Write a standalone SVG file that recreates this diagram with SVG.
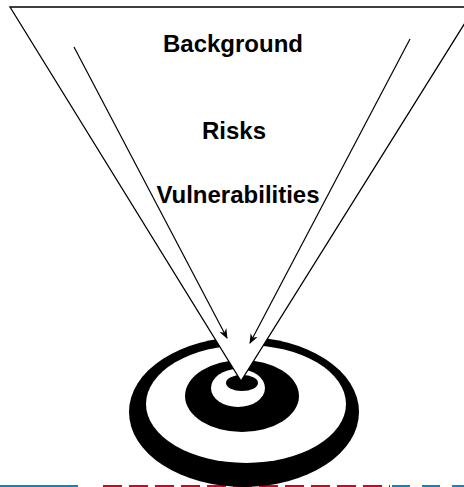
<svg xmlns="http://www.w3.org/2000/svg" width="464" height="487" viewBox="0 0 464 487">
<style>
.lbl{font-family:"Liberation Sans",Arial,sans-serif;font-weight:bold;font-size:24px;fill:#000;text-anchor:middle}
.blk{fill:#000}
.wht{fill:#fff}
.arr{stroke:#000;stroke-width:1.2;fill:none;marker-end:url(#ah)}
</style>
<defs>
<marker id="ah" markerWidth="10" markerHeight="8" refX="9" refY="4" orient="auto" markerUnits="userSpaceOnUse">
<path d="M0,0 L10,4 L0,8 L3,4 Z" fill="#000"/>
</marker>
</defs>
<rect width="464" height="487" fill="#fff"/>
<g id="baseline">
<line x1="0" y1="486" x2="78" y2="486" stroke="#0a86c8" stroke-width="2"/>
<line x1="103" y1="486" x2="390" y2="486" stroke="#d4002a" stroke-width="2" stroke-dasharray="19,7"/>
<line x1="392" y1="486" x2="464" y2="486" stroke="#0a86c8" stroke-width="2" stroke-dasharray="18,12"/>
</g>
<g id="target">
<ellipse class="blk" cx="244" cy="412" rx="115" ry="75"/>
<ellipse class="wht" cx="246" cy="404" rx="100" ry="59"/>
<ellipse class="blk" cx="242" cy="396" rx="57" ry="36"/>
<ellipse class="wht" cx="238" cy="388" rx="27" ry="19"/>
<ellipse class="blk" cx="242" cy="383" rx="16" ry="8"/>
</g>
<g id="funnel">
<polygon points="10,7 475,7 241,381" fill="#fff" stroke="#000" stroke-width="1.3" stroke-linejoin="miter"/>
</g>
<g id="connectors">
<line class="arr" x1="74" y1="47" x2="227" y2="338"/>
<line class="arr" x1="410" y1="39" x2="250" y2="343"/>
</g>
<g id="background-label"><text class="lbl" x="233" y="52">Background</text></g>
<g id="risks-label"><text class="lbl" x="234" y="139">Risks</text></g>
<g id="vulnerabilities-label"><text class="lbl" x="238" y="203">Vulnerabilities</text></g>
</svg>
